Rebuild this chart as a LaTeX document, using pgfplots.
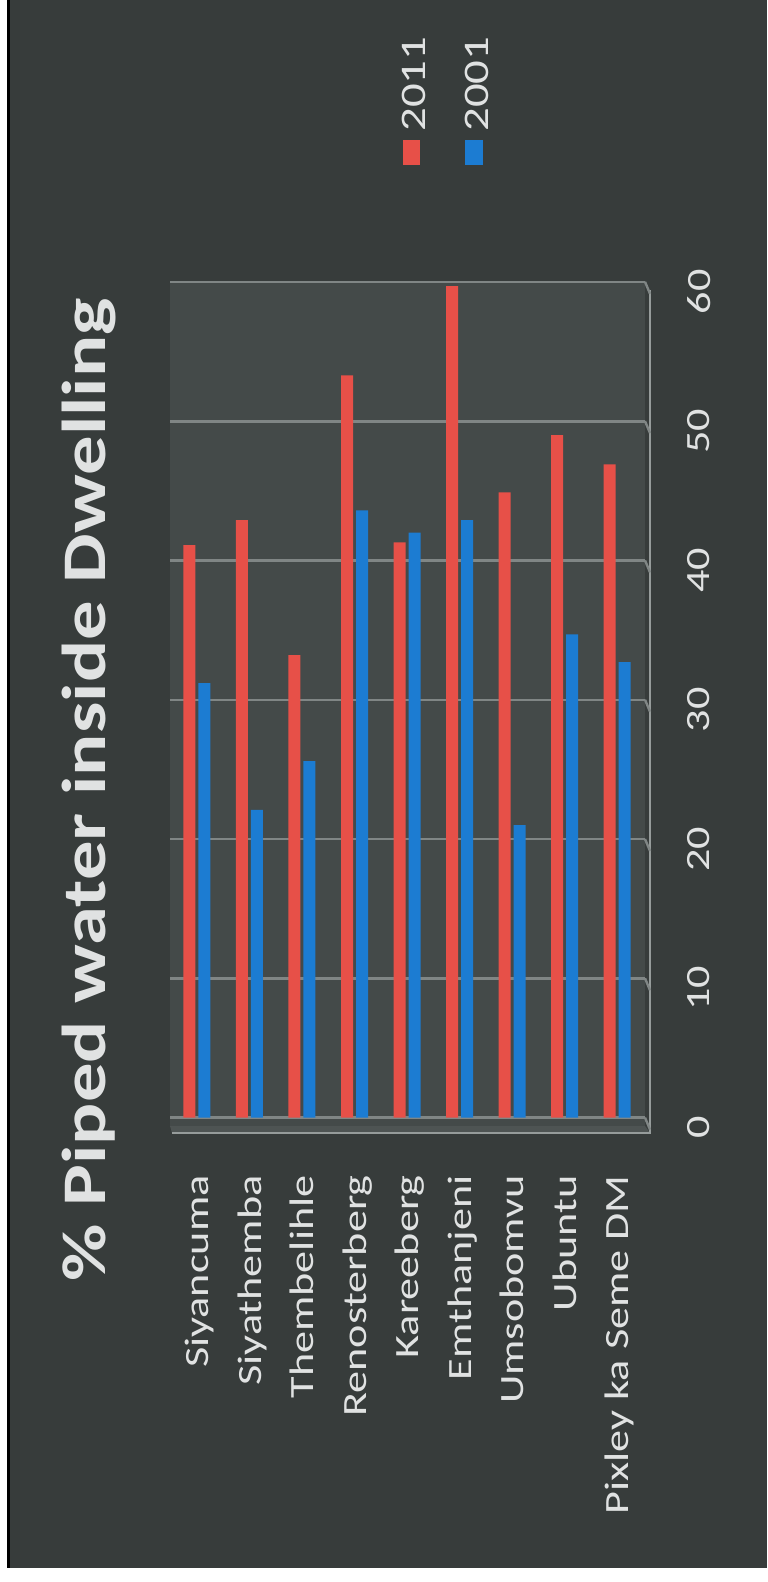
\documentclass[border=0pt]{standalone}
\usepackage{pgfplots}
\pgfplotsset{compat=1.18}
\usepackage{graphicx}
\usepackage{fontspec}
\setmainfont{Carlito}

\definecolor{bgdark}{RGB}{55,60,59}
\definecolor{wall}{RGB}{68,74,73}
\definecolor{floorc}{RGB}{78,84,83}
\definecolor{gridgray}{RGB}{128,134,133}
\definecolor{edgegray}{RGB}{150,156,155}
\definecolor{txt}{RGB}{224,226,226}
\definecolor{bar2011}{RGB}{231,80,72}
\definecolor{bar2001}{RGB}{28,124,210}

% text in this chart is drawn slightly elongated along its reading direction
\newcommand\sx[1]{\scalebox{1.3}[1]{#1}}
\newcommand\labfont{\fontsize{17}{20}\selectfont}

\begin{document}
\begin{tikzpicture}
\path[use as bounding box] (0,0) rectangle (383.5pt,791pt);
\fill[white] (0,0) rectangle (383.5pt,791pt);
\fill[bgdark] (4.5pt,7pt) rectangle (383.5pt,791pt);
\draw[black, line width=1.2pt] (4.2pt,7pt) -- (4.2pt,791pt);

% floor strip in front of the back wall
\fill[floorc] (85pt,228pt) -- (322.5pt,228pt) -- (325pt,224.5pt) -- (86pt,224.5pt) -- cycle;

\begin{axis}[
  at={(85pt,228pt)}, anchor=south west,
  scale only axis, width=237.5pt, height=422pt,
  xmin=-0.514, xmax=8.533, ymin=-0.6, ymax=60,
  axis background/.style={fill=wall},
  axis line style={draw=none},
  xtick={0,...,8},
  xticklabels={\sx{Siyancuma},\sx{Siyathemba},\sx{Thembelihle},\sx{Renosterberg},\sx{Kareeberg},\sx{Emthanjeni},\sx{Umsobomvu},\sx{Ubuntu},\sx{Pixley ka Seme DM}},
  xticklabel style={xshift=5.8pt, rotate=90, anchor=base east, inner sep=0pt, font=\labfont, text=txt},
  xticklabel shift=24.5pt,
  ytick={0,10,...,60},
  yticklabel pos=right,
  /pgf/number format/assume math mode=true,
  yticklabel={\sx{\pgfmathprintnumber{\tick}}},
  yticklabel style={yshift=-5pt, rotate=90, anchor=north, inner sep=0pt, font=\labfont, text=txt},
  yticklabel shift=21pt,
  major tick length=0pt,
  ymajorgrids, grid style={gridgray, line width=1.3pt},
]
\addplot[ybar, bar width=6pt, bar shift=-3.75pt, fill=bar2011, draw=none]
  coordinates {(0,41.1) (1,42.9) (2,33.2) (3,53.3) (4,41.3) (5,59.7) (6,44.9) (7,49.0) (8,46.9)};
\addplot[ybar, bar width=6pt, bar shift=3.75pt, fill=bar2001, draw=none]
  coordinates {(0,31.2) (1,22.1) (2,25.6) (3,43.6) (4,42.0) (5,42.9) (6,21.0) (7,34.7) (8,32.7)};
\end{axis}

% front edge of the floor and right side wall
\draw[edgegray, line width=1.2pt] (86pt,224.5pt) -- (325pt,224.5pt) -- (325pt,646pt);
\foreach \v in {0,10,20,30,40,50,60}{
  \pgfmathsetmacro\yy{791-0.5*(1117.6-13.93*\v)}
  \draw[gridgray, line width=1.2pt] (322.5pt,\yy pt) -- (325pt,\yy pt-6pt);
}

% legend (keys below, labels reading upwards)
\fill[bar2011] (201.5pt,708.5pt) rectangle (210pt,721pt);
\fill[bar2001] (232.5pt,708.5pt) rectangle (241.5pt,721pt);
\node[rotate=90, anchor=base west, inner sep=0pt, text=txt, font=\fontsize{18}{21}\selectfont]
  at (212.5pt,725pt) {\sx{2011}};
\node[rotate=90, anchor=base west, inner sep=0pt, text=txt, font=\fontsize{18}{21}\selectfont]
  at (244pt,725pt) {\sx{2001}};

% chart title
\node[rotate=90, anchor=base east, inner sep=0pt, text=txt,
  font=\fontsize{31}{37}\selectfont\bfseries] at (52.5pt,642pt)
  {\scalebox{1.27}[1]{\% Piped water inside Dwelling}};
\end{tikzpicture}
\end{document}
